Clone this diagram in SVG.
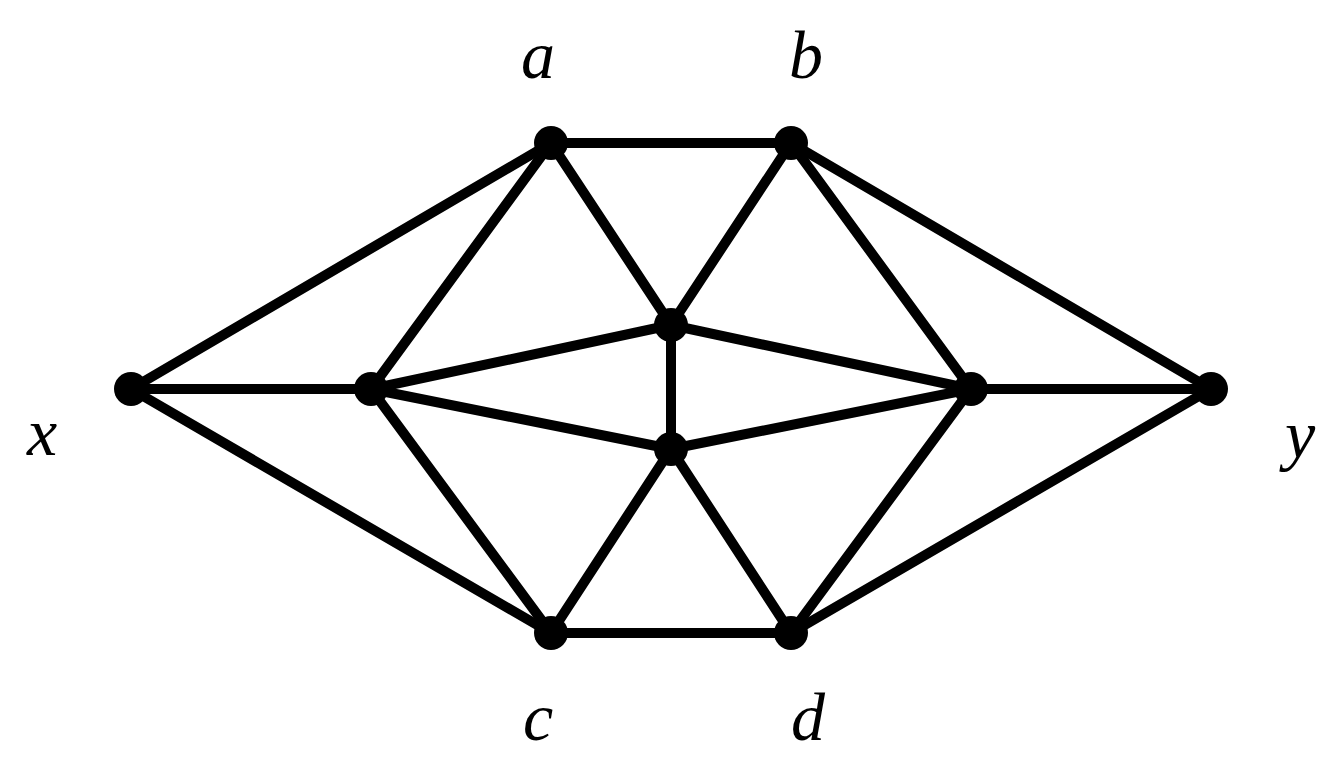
<svg xmlns="http://www.w3.org/2000/svg" width="1344" height="782" viewBox="0 0 1344 782">
<style>
.e{stroke:#000;stroke-width:10;stroke-linecap:round}
.n{fill:#000}
.t{font-family:"Liberation Serif",serif;font-style:italic;font-size:68px;fill:#000;text-anchor:middle}
</style>
<rect width="1344" height="782" fill="#fff"/>
<g id="edges" class="e">
<line x1="131" y1="389" x2="551" y2="143"/>
<line x1="131" y1="389" x2="371" y2="389"/>
<line x1="131" y1="389" x2="551" y2="633"/>
<line x1="551" y1="143" x2="791" y2="143"/>
<line x1="551" y1="143" x2="371" y2="389"/>
<line x1="551" y1="143" x2="671" y2="325"/>
<line x1="791" y1="143" x2="671" y2="325"/>
<line x1="791" y1="143" x2="971" y2="389"/>
<line x1="791" y1="143" x2="1211" y2="389"/>
<line x1="371" y1="389" x2="671" y2="325"/>
<line x1="371" y1="389" x2="671" y2="449"/>
<line x1="371" y1="389" x2="551" y2="633"/>
<line x1="671" y1="325" x2="671" y2="449"/>
<line x1="671" y1="325" x2="971" y2="389"/>
<line x1="671" y1="449" x2="971" y2="389"/>
<line x1="671" y1="449" x2="551" y2="633"/>
<line x1="671" y1="449" x2="791" y2="633"/>
<line x1="551" y1="633" x2="791" y2="633"/>
<line x1="971" y1="389" x2="791" y2="633"/>
<line x1="971" y1="389" x2="1211" y2="389"/>
<line x1="1211" y1="389" x2="791" y2="633"/>
</g>
<g id="x"><circle class="n" cx="131" cy="389" r="17"/><text class="t" x="42" y="455">x</text></g>
<g id="l"><circle class="n" cx="371" cy="389" r="17"/></g>
<g id="a"><circle class="n" cx="551" cy="143" r="17"/><text class="t" x="538" y="78">a</text></g>
<g id="b"><circle class="n" cx="791" cy="143" r="17"/><text class="t" x="806" y="78">b</text></g>
<g id="m1"><circle class="n" cx="671" cy="325" r="17"/></g>
<g id="m2"><circle class="n" cx="671" cy="449" r="17"/></g>
<g id="r"><circle class="n" cx="971" cy="389" r="17"/></g>
<g id="y"><circle class="n" cx="1211" cy="389" r="17"/><text class="t" x="1300" y="458">y</text></g>
<g id="c"><circle class="n" cx="551" cy="633" r="17"/><text class="t" x="538" y="740">c</text></g>
<g id="d"><circle class="n" cx="791" cy="633" r="17"/><text class="t" x="808" y="740">d</text></g>
</svg>
